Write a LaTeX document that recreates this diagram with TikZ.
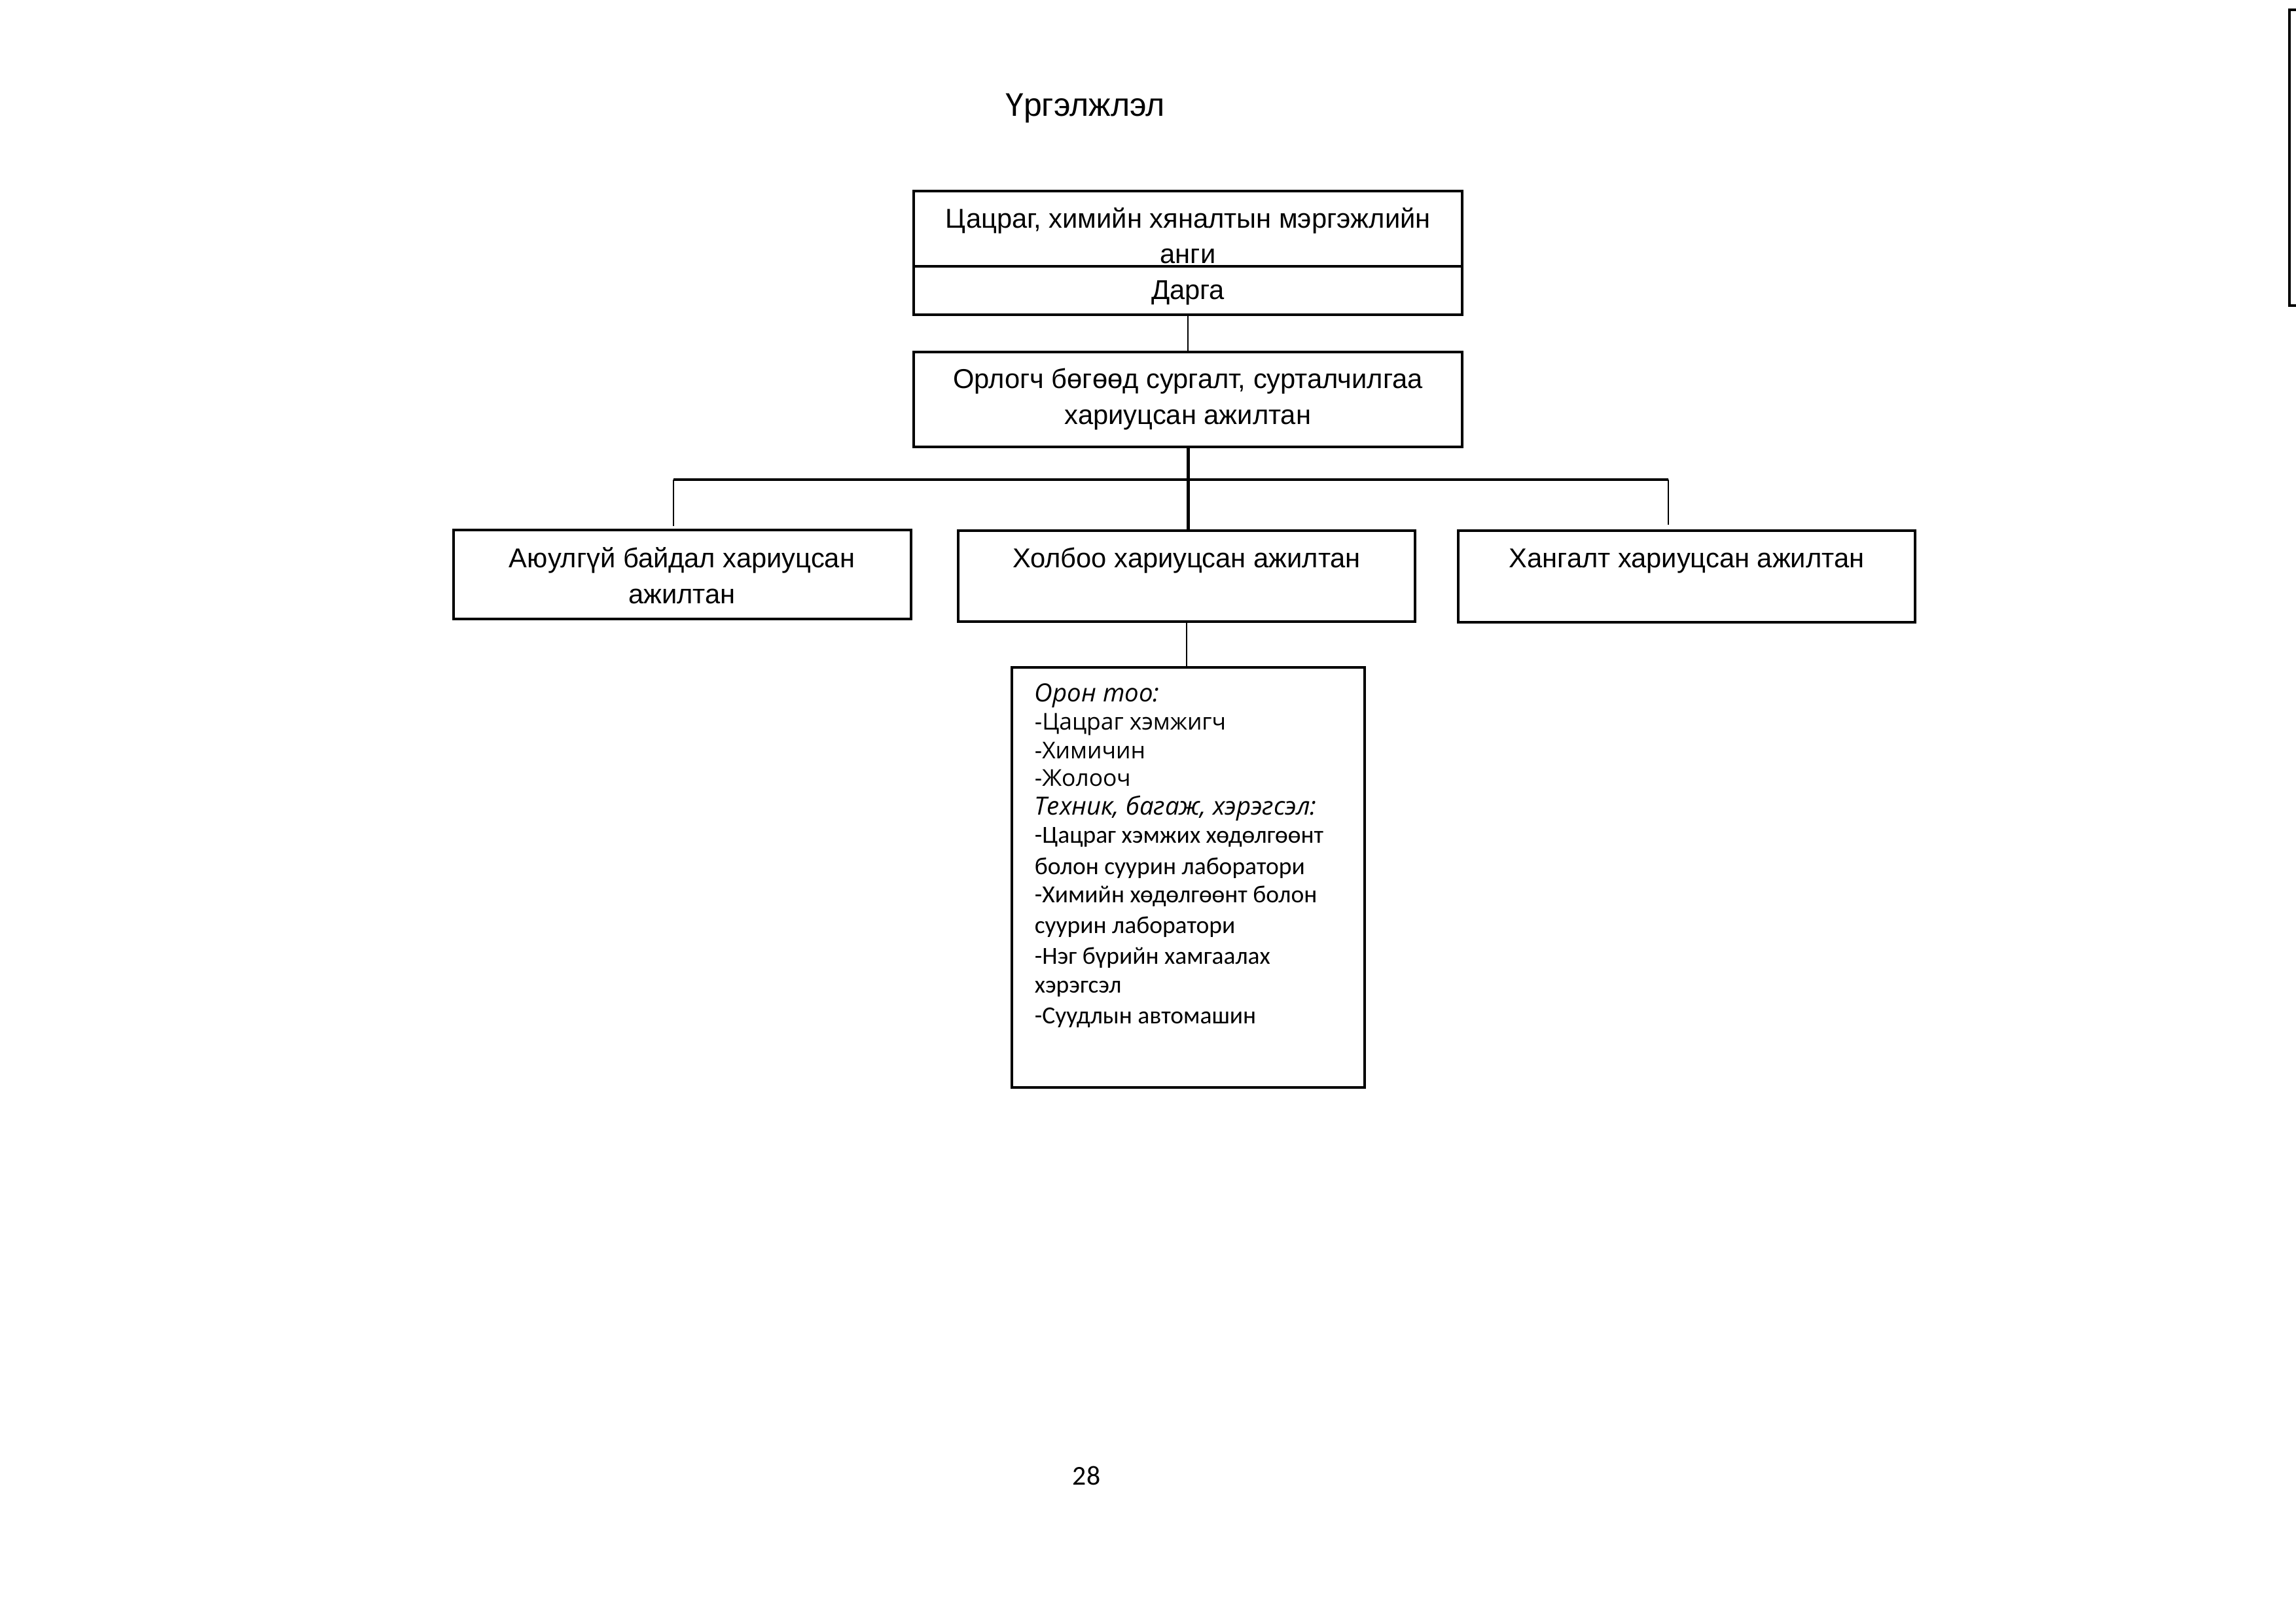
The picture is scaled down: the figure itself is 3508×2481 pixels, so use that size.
\documentclass[tikz,border=0pt]{standalone}
\usepackage{fontspec}
\setmainfont{Liberation Sans}
\newfontfamily\itaf{Open Sans}
\newfontfamily\calf{Carlito}
\usetikzlibrary{fit}
\begin{document}
\begin{tikzpicture}[x=0.24pt,y=-0.24pt,
  box/.style={draw, line width=0.75pt, inner sep=0pt},
  lbl/.style={anchor=base, inner sep=0pt, font=\fontsize{10}{12}\selectfont},
  ttl/.style={anchor=base, inner sep=0pt, font=\fontsize{12}{14}\selectfont},
  upl/.style={anchor=base west, inner sep=0pt, font=\itaf\fontsize{8.5}{10}\selectfont},
  itl/.style={anchor=base west, inner sep=0pt, font=\itaf\itshape\fontsize{9.2}{11}\selectfont},
  lol/.style={anchor=base west, inner sep=0pt, font=\calf\fontsize{9}{11}\selectfont},
  thinc/.style={line width=0.6pt},
  hconn/.style={line width=0.75pt},
  thickc/.style={line width=1.2pt}]
\useasboundingbox (0,0) rectangle (3508,2481);
% boxes
\node[box, fit={(1396,292) (2234,481)}] (top) {};
\node[box, fit={(1396,538) (2234,683)}] (dep) {};
\node[box, fit={(693,810) (1392,946)}] (left) {};
\node[box, fit={(1464,811) (2162,950)}] (mid) {};
\node[box, fit={(2228,811) (2926,951)}] (right) {};
\node[box, fit={(1546,1020) (2085,1662)}] (bot) {};
\draw[line width=0.75pt] (top.west |- 0,407) -- (top.east |- 0,407);
% right-edge frame
\draw[line width=0.75pt] (3530,15) -- (3498,15) -- (3498,467) -- (3530,467);
% connectors
\coordinate (hl) at (1029,733);
\coordinate (hr) at (2549,733);
\coordinate (ld) at (1029,804);
\coordinate (rd) at (2549,802);
\draw[thinc] (top.south) -- (dep.north);
\draw[thickc] (dep.south) -- (dep.south |- mid.north);
\draw[hconn] (hl) -- (hr);
\draw[thinc] (hl) -- (ld);
\draw[thinc] (hr) -- (rd);
\draw[thinc] (mid.south) -- (mid.south |- bot.north);
% texts
\node[ttl] (title) at (1658,177) {Үргэлжлэл};
\node[lbl] (t1) at (1815,348) {Цацраг, химийн хяналтын мэргэжлийн};
\node[lbl] (t2) at (1815,402) {анги};
\node[lbl] (t3) at (1815,457) {Дарга};
\node[lbl] (d1) at (1815,593) {Орлогч бөгөөд сургалт, сурталчилгаа};
\node[lbl] (d2) at (1815,648) {хариуцсан ажилтан};
\node[lbl] (l1) at (1042,867) {Аюулгүй байдал хариуцсан};
\node[lbl] (l2) at (1042,922) {ажилтан};
\node[lbl] (m1) at (1813,867) {Холбоо хариуцсан ажилтан};
\node[lbl] (r1) at (2577,867) {Хангалт хариуцсан ажилтан};
\node[itl] (b1) at (1580,1072) {Орон тоо:};
\node[upl] (b2) at (1580,1115) {-Цацраг хэмжигч};
\node[upl] (b3) at (1580,1159) {-Химичин};
\node[upl] (b4) at (1580,1201) {-Жолооч};
\node[itl] (b5) at (1580,1245) {Техник, багаж, хэрэгсэл:};
\node[lol] (b6) at (1580,1288) {-Цацраг хэмжих хөдөлгөөнт};
\node[lol] (b7) at (1580,1336) {болон суурин лаборатори};
\node[lol] (b8) at (1580,1379) {-Химийн хөдөлгөөнт болон};
\node[lol] (b9) at (1580,1426) {суурин лаборатори};
\node[lol] (b10) at (1580,1473) {-Нэг бүрийн хамгаалах};
\node[lol] (b11) at (1580,1517) {хэрэгсэл};
\node[lol] (b12) at (1580,1564) {-Суудлын автомашин};
\node[anchor=base, inner sep=0pt, font=\calf\fontsize{10}{12}\selectfont] (pg) at (1660,2269) {28};
\end{tikzpicture}
\end{document}
